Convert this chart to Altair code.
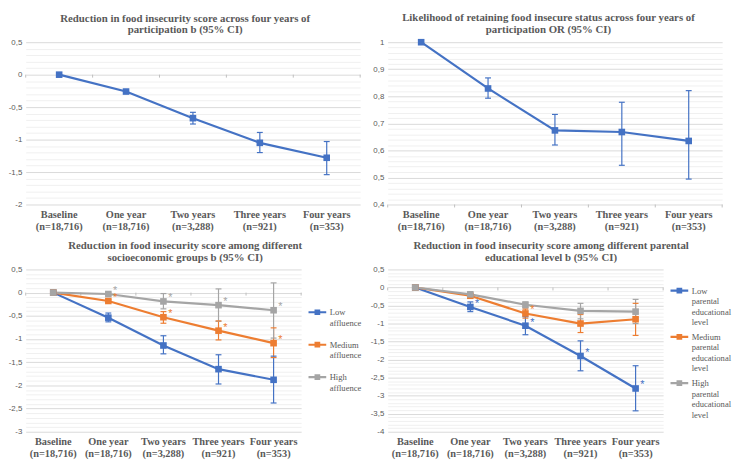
import altair as alt
import pandas as pd

periods = ["Baseline", "One year", "Two years", "Three years", "Four years"]
sample_sizes = ["(n=18,716)", "(n=18,716)", "(n=3,288)", "(n=921)", "(n=353)"]

# Panel A: reduction in food insecurity score, b (95% CI)
a_b = [0, -0.26, -0.67, -1.05, -1.28]
a_lo = [None, -0.28, -0.76, -1.20, -1.54]
a_hi = [None, -0.24, -0.58, -0.89, -1.03]

# Panel B: likelihood of retaining food insecure status, OR (95% CI)
b_or = [1.0, 0.829, 0.674, 0.668, 0.635]
b_lo = [None, 0.793, 0.620, 0.545, 0.494]
b_hi = [None, 0.868, 0.733, 0.778, 0.821]

# Panel C: socioeconomic groups
ses_groups = ["Low affluence", "Medium affluence", "High affluence"]
c_low_b = [0, -0.54, -1.14, -1.65, -1.88]
c_low_lo = [None, -0.63, -1.32, -1.97, -2.38]
c_low_hi = [None, -0.44, -0.93, -1.34, -1.37]
c_low_sig = [False, False, False, False, False]
c_med_b = [0, -0.18, -0.53, -0.82, -1.09]
c_med_lo = [None, -0.21, -0.66, -1.02, -1.40]
c_med_hi = [None, -0.15, -0.41, -0.61, -0.76]
c_med_sig = [False, True, True, True, True]
c_high_b = [0, -0.03, -0.19, -0.27, -0.38]
c_high_lo = [None, -0.06, -0.35, -0.62, -0.98]
c_high_hi = [None, 0.00, -0.02, 0.08, 0.21]
c_high_sig = [False, True, True, True, True]

# Panel D: parental educational level
edu_groups = ["Low parental educational level", "Medium parental educational level",
              "High parental educational level"]
d_low_b = [0, -0.54, -1.06, -1.90, -2.80]
d_low_lo = [None, -0.67, -1.31, -2.31, -3.42]
d_low_hi = [None, -0.40, -0.81, -1.48, -2.17]
d_low_sig = [False, True, True, True, True]
d_med_b = [0, -0.23, -0.72, -1.00, -0.88]
d_med_lo = [None, -0.26, -0.85, -1.25, -1.33]
d_med_hi = [None, -0.20, -0.60, -0.75, -0.44]
d_med_sig = [False, False, True, False, False]
d_high_b = [0, -0.19, -0.48, -0.65, -0.67]
d_high_lo = [None, -0.22, -0.57, -0.87, -1.00]
d_high_hi = [None, -0.16, -0.40, -0.44, -0.33]
d_high_sig = [False, False, False, False, False]

colors = ["#4472C4", "#ED7D31", "#A5A5A5"]
GRAY = "#595959"
SERIF = "Liberation Serif"
SANS = "Liberation Sans"

cats = [f"{p}|{n}" for p, n in zip(periods, sample_sizes)]


def frame(series):
    rows = []
    for group, b, lo, hi, sig in series:
        for i in range(len(cats)):
            rows.append({"cat": cats[i], "idx": i, "group": group, "b": b[i],
                         "lo": lo[i], "hi": hi[i], "sig": sig[i]})
    return pd.DataFrame(rows)


def panel(df, title, ymin, ymax, major, minor, width, height, groups, legend):
    n = round((ymax - ymin) / minor)
    ticks = [round(ymin + i * minor, 4) for i in range(n + 1)]
    cross = 0 if ymin <= 0 <= ymax else ymin
    is_major = f"abs(datum.value/{major} - round(datum.value/{major})) < 0.001"
    xscale = alt.Scale(type="band", paddingInner=0, paddingOuter=0)
    xaxis = alt.Axis(title=None, labelExpr="split(datum.label, '|')", labelAngle=0,
                     labelFont=SERIF, labelFontWeight="bold", labelFontSize=10.5,
                     labelColor=GRAY, ticks=False, domain=False, labelPadding=5,
                     labelLineHeight=12, grid=False)
    x = alt.X("cat:N", sort=cats, scale=xscale, axis=xaxis, bandPosition=0.5)
    x_left = alt.X("cat:N", sort=cats, scale=xscale, axis=xaxis, bandPosition=0)
    x_right = alt.X("cat:N", sort=cats, scale=xscale, axis=xaxis, bandPosition=1)
    yscale = alt.Scale(domain=[ymin, ymax], nice=False, zero=False)
    yaxis = alt.Axis(title=None, values=ticks,
                     labelExpr=f"{is_major} ? replace(toString(datum.value), '.', ',') : ''",
                     gridColor={"condition": {"test": is_major, "value": "#d9d9d9"},
                                "value": "#f0f0f0"},
                     ticks=False, domain=False, labelFont=SANS, labelFontSize=8,
                     labelColor=GRAY, labelPadding=4, labelOverlap=False,
                     labelFlush=False, labelBound=False)
    y = alt.Y("b:Q", scale=yscale, axis=yaxis)
    ylo = alt.Y("lo:Q", scale=yscale, axis=yaxis)
    yhi = alt.Y("hi:Q", scale=yscale, axis=yaxis)
    color = alt.Color("group:N", scale=alt.Scale(domain=groups, range=colors[:len(groups)]),
                      legend=legend)
    base = alt.Chart(df)
    ci = base.transform_filter("isValid(datum.lo)")
    rules = ci.mark_rule(strokeWidth=1.2).encode(x=x, y=ylo, y2="hi:Q", color=color)
    cap_lo = ci.mark_tick(thickness=1.2, size=6, opacity=1).encode(x=x, y=ylo, color=color)
    cap_hi = ci.mark_tick(thickness=1.2, size=6, opacity=1).encode(x=x, y=yhi, color=color)
    line = base.mark_line(strokeWidth=2.2).encode(x=x, y=y, color=color, order="idx:Q")
    pts = base.mark_point(shape="square", filled=True, size=45, opacity=1).encode(
        x=x, y=y, color=color)
    stars = base.transform_filter("datum.sig").mark_text(
        text="*", dx=7, dy=-3, fontSize=11, font=SANS).encode(x=x, y=y, color=color)
    # category-boundary tick marks on the horizontal axis line
    bdf = pd.DataFrame({"cat": cats, "cross": [cross] * len(cats)})
    tick_style = dict(shape="M0,0L0,1", size=36, stroke="#bfbfbf", strokeWidth=1,
                      filled=False, opacity=1)
    yc = alt.Y("cross:Q", scale=yscale, axis=yaxis)
    bt_left = alt.Chart(bdf).mark_point(**tick_style).encode(x=x_left, y=yc)
    bt_right = alt.Chart(bdf).transform_filter(
        alt.datum.cat == cats[-1]).mark_point(**tick_style).encode(x=x_right, y=yc)
    return alt.layer(bt_left, bt_right, line, rules, cap_lo, cap_hi, pts, stars).properties(
        width=width, height=height,
        title=alt.TitleParams(text=title, font=SERIF, fontSize=11, fontWeight="bold",
                              color=GRAY, anchor="middle", frame="bounds", offset=3,
                              lineHeight=12))


def leg(width, ly, row_pad):
    return alt.Legend(title=None, orient="none", legendX=width + 6, legendY=ly,
                      labelExpr="split(datum.label, ' ')", labelFont=SERIF,
                      labelFontSize=8.7, labelColor=GRAY, labelBaseline="alphabetic",
                      symbolType="M-1,-0.33L1,-0.33M-0.2,-0.53L0.2,-0.53L0.2,-0.13L-0.2,-0.13Z",
                      symbolSize=324, symbolStrokeWidth=2.2, rowPadding=row_pad,
                      labelOffset=2)


H = 165
W1 = 340
W2 = 280

pa = panel(frame([("All", a_b, a_lo, a_hi, [False] * 5)]),
           ["Reduction in food insecurity score across four years of",
            "participation b (95% CI)"], -2, 0.5, 0.5, 0.1, W1, H, ["All"], None)
pb = panel(frame([("All", b_or, b_lo, b_hi, [False] * 5)]),
           ["Likelihood of retaining food insecure status across four years of",
            "participation OR (95% CI)"], 0.4, 1.0, 0.1, 0.02, W1, H, ["All"], None)
pc = panel(frame([(ses_groups[0], c_low_b, c_low_lo, c_low_hi, c_low_sig),
                  (ses_groups[1], c_med_b, c_med_lo, c_med_hi, c_med_sig),
                  (ses_groups[2], c_high_b, c_high_lo, c_high_hi, c_high_sig)]),
           ["Reduction in food insecurity score among different",
            "socioeconomic groups b (95% CI)"], -3, 0.5, 0.5, 0.1, W2, H, ses_groups,
           leg(W2, 36, 10))
pd_ = panel(frame([(edu_groups[0], d_low_b, d_low_lo, d_low_hi, d_low_sig),
                   (edu_groups[1], d_med_b, d_med_lo, d_med_hi, d_med_sig),
                   (edu_groups[2], d_high_b, d_high_lo, d_high_hi, d_high_sig)]),
            ["Reduction in food insecurity score among different parental",
             "educational level b (95% CI)"], -4, 0.5, 0.5, 0.1, W2, H, edu_groups,
            leg(W2, 14, 2))

row1 = alt.hconcat(pa, pb, spacing=10).resolve_scale(color="independent", x="independent",
                                                      y="independent")
row2 = alt.hconcat(pc, pd_, spacing=8).resolve_scale(
    color="independent", x="independent", y="independent").resolve_legend(color="independent")

chart = alt.vconcat(row1, row2, spacing=8).properties(
    padding=0, background="white").configure_view(strokeWidth=0).configure_axis(
    labelOverlap=False).resolve_scale(color="independent").resolve_legend(color="independent")

chart.save("out.html", embed_options={"renderer": "svg", "actions": False})
